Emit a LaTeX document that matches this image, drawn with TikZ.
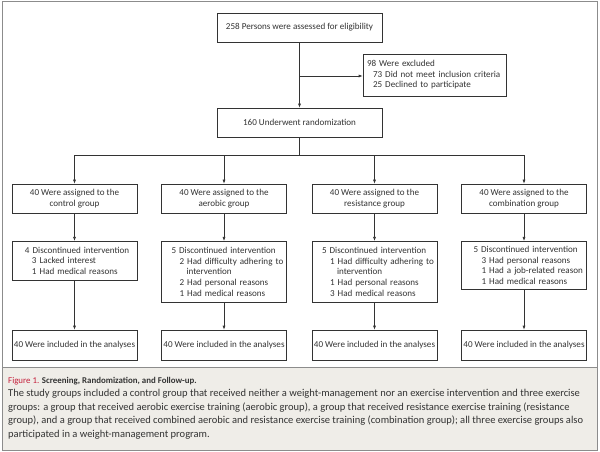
\documentclass[tikz,border=0pt]{standalone}
\usepackage{fontspec}
\setmainfont{Carlito}
\usetikzlibrary{arrows.meta}
\definecolor{frame}{HTML}{8C8C8C}
\definecolor{capbg}{HTML}{EFEDE8}
\definecolor{ink}{HTML}{333333}
\definecolor{nejmred}{HTML}{C41E3A}
\newcommand\boxfnt{\fontsize{9.1}{10.6}\selectfont}
\newcommand\capfnt{\fontsize{10.55}{13.8}\selectfont}
\newcommand\titfnt{\fontsize{8.9}{12}\selectfont}
\begin{document}
\begin{tikzpicture}[x=1bp,y=-1bp,
  every node/.style={text=ink},
  box/.style={draw=ink, line width=0.6bp, inner sep=0pt, font=\boxfnt},
  cbox/.style={box, align=center, minimum width=#1},
  lbox/.style={box, align=left, text width=#1},
  arr/.style={draw=ink, line width=0.6bp, -{Latex[length=4bp,width=3bp]}},
  ln/.style={draw=ink, line width=0.6bp}]
\useasboundingbox (0,0) rectangle (600,452);
\fill[white] (0,0) rectangle (600,452);
% caption background
\fill[capbg] (2,367) rectangle (597,450);
\draw[frame, line width=0.8bp] (2,367) -- (597,367);
\draw[frame, line width=1bp] (2,2) rectangle (597,450);

% top
\node[cbox=165bp, minimum height=29bp] (screen) at (299.5,27.5) {258 Persons were assessed for eligibility};
\node[lbox=143bp, minimum height=42bp] (excl) at (434.5,75)
  {\hspace*{4bp}98 Were excluded\\\hspace*{10bp}73 Did not meet inclusion criteria\\\hspace*{10bp}25 Declined to participate};
\node[cbox=165bp, minimum height=29bp] (rand) at (299.5,122.5) {160 Underwent randomization};

% assigned
\node[cbox=125bp, minimum height=29bp] (actl) at (74.5,198.5) {40 Were assigned to the\\control group};
\node[cbox=125bp, minimum height=29bp] (aaer) at (224,198.5) {40 Were assigned to the\\aerobic group};
\node[cbox=125bp, minimum height=29bp] (ares) at (374.5,198.5) {40 Were assigned to the\\resistance group};
\node[cbox=125bp, minimum height=29bp] (acmb) at (524,198.5) {40 Were assigned to the\\combination group};

% discontinued
\node[lbox=125bp, minimum height=39bp, anchor=north] (dctl) at (74.5,241)
  {\hspace*{13bp}4 Discontinued intervention\\\hspace*{20bp}3 Lacked interest\\\hspace*{20bp}1 Had medical reasons};
\node[lbox=125bp, minimum height=61bp, anchor=north] (daer) at (224,241)
  {\hspace*{10bp}5 Discontinued intervention\\\hspace*{18bp}2 Had difficulty adhering to\\\hspace*{25bp}intervention\\\hspace*{18bp}2 Had personal reasons\\\hspace*{18bp}1 Had medical reasons};
\node[lbox=125bp, minimum height=61bp, anchor=north] (dres) at (374.5,241)
  {\hspace*{10bp}5 Discontinued intervention\\\hspace*{18bp}1 Had difficulty adhering to\\\hspace*{25bp}intervention\\\hspace*{18bp}1 Had personal reasons\\\hspace*{18bp}3 Had medical reasons};
\node[lbox=125bp, minimum height=48bp, anchor=north] (dcmb) at (524,241)
  {\hspace*{12bp}5 Discontinued intervention\\\hspace*{20bp}3 Had personal reasons\\\hspace*{20bp}1 Had a job-related reason\\\hspace*{20bp}1 Had medical reasons};

% included
\node[cbox=125bp, minimum height=30bp] (ictl) at (74.5,345) {40 Were included in the analyses};
\node[cbox=125bp, minimum height=30bp] (iaer) at (224,345) {40 Were included in the analyses};
\node[cbox=125bp, minimum height=30bp] (ires) at (374.5,345) {40 Were included in the analyses};
\node[cbox=125bp, minimum height=30bp] (icmb) at (524,345) {40 Were included in the analyses};

% connectors
\draw[arr] (screen.south) -- (rand.north);
\coordinate (j1) at (299.5,76);
\draw[arr] (j1) -- (j1 -| excl.west);
\coordinate (br) at (299.5,155.5);
\draw[ln] (rand.south) -- (br);
\draw[ln] (actl.north |- br) -- (acmb.north |- br);
\draw[arr] (actl.north |- br) -- (actl.north);
\draw[arr] (aaer.north |- br) -- (aaer.north);
\draw[arr] (ares.north |- br) -- (ares.north);
\draw[arr] (acmb.north |- br) -- (acmb.north);
\draw[arr] (actl.south) -- (dctl.north);
\draw[arr] (aaer.south) -- (daer.north);
\draw[arr] (ares.south) -- (dres.north);
\draw[arr] (acmb.south) -- (dcmb.north);
\draw[arr] (dctl.south) -- (ictl.north);
\draw[arr] (daer.south) -- (iaer.north);
\draw[arr] (dres.south) -- (ires.north);
\draw[arr] (dcmb.south) -- (icmb.north);

% caption
\node[anchor=base west, inner sep=0pt, font=\titfnt] (title) at (8,383)
  {\textcolor{nejmred}{Figure 1.} \textbf{Screening, Randomization, and Follow-up.}};
\node[anchor=north west, inner sep=0pt, align=left, font=\capfnt] (body) at (8,389)
  {The study groups included a control group that received neither a weight-management nor an exercise intervention and three exercise\\
   groups: a group that received aerobic exercise training (aerobic group), a group that received resistance exercise training (resistance\\
   group), and a group that received combined aerobic and resistance exercise training (combination group); all three exercise groups also\\
   participated in a weight-management program.};
\end{tikzpicture}
\end{document}
